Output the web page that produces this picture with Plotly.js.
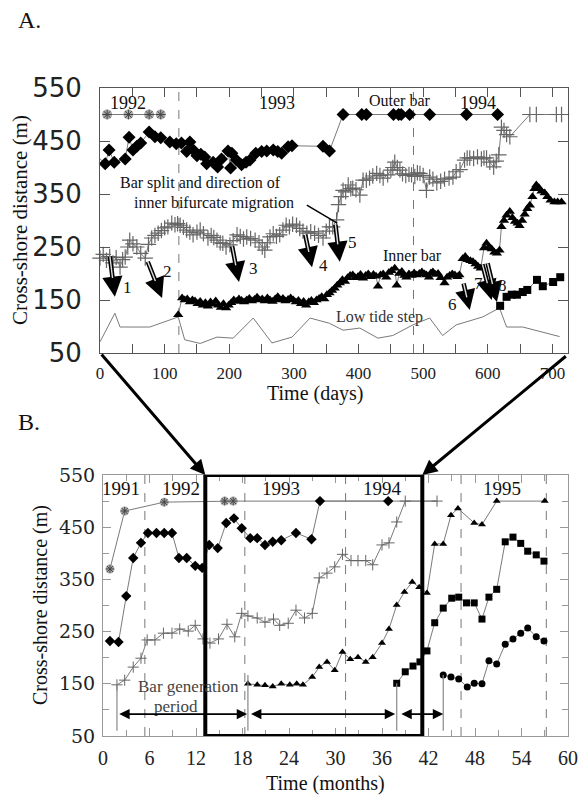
<!DOCTYPE html>
<html><head><meta charset="utf-8">
<script src="https://cdn.plot.ly/plotly-3.0.1.min.js"></script>
<style>html,body{margin:0;padding:0;background:#fff}</style>
</head><body><div id="chart" style="width:580px;height:795px"></div>
<script>
// ---------- Panel A (days) ----------
const aAstDays = [11, 44, 76, 94];
const aAstVals = [500, 500, 500, 500];

const aDiaDays = [-3,8,14,22,39,45,51,57,63,76,85,94,108,118,126,134,139,145,150,156,162,165,175,182,188,198,202,204,211,219,226,232,241,250,258,268,275,281,291,297,345,355,376,405,412,454,462,466,479,510,567,615];
const aDiaVals = [420,407,433,410,416,457,433,440,446,467,458,456,448,445,446,430,448,432,422,425,420,407,410,401,416,431,399,427,414,405,410,414,427,430,431,433,430,427,439,441,440,431,500,500,500,500,500,500,500,500,500,500];

const aPlusDays = [0,5,10,15,20,25,31,35,39,43,46,51,57,63,70,75,80,85,90,95,100,105,111,116,120,124,129,134,139,144,150,155,160,167,172,176,181,186,190,195,201,206,212,217,222,227,233,240,246,251,255,259,263,268,273,278,283,288,293,298,304,309,314,320,326,332,338,345,350,355,360,366,369,373,376,380,384,388,391,396,402,407,412,417,422,428,433,438,445,450,453,456,460,464,468,473,478,482,487,491,495,500,505,510,515,521,527,533,540,546,551,557,564,568,572,578,584,590,594,598,603,609,613,617,621,625,629,634,665,675,706,714];
const aPlusVals = [229,236,225,232,220,230,212,226,231,250,263,256,250,238,229,255,267,272,276,281,286,288,295,292,294,291,287,282,278,273,278,282,275,267,272,268,263,258,257,250,254,262,273,270,265,269,266,263,258,250,244,258,269,275,270,273,282,291,288,293,291,285,280,276,279,276,272,267,280,288,288,301,330,345,357,354,367,360,361,358,348,376,376,380,384,389,385,380,386,395,400,410,400,395,388,385,387,386,383,390,389,385,357,382,378,371,374,378,380,382,392,396,414,418,418,417,420,416,418,418,410,401,412,424,476,470,462,458,500,500,500,500];

const aTriDays = [121,127,131,135,139,143,147,151,155,159,163,167,171,175,179,183,187,191,195,199,203,207,211,215,219,223,227,231,235,239,243,247,251,255,259,263,267,271,275,279,283,287,291,295,299,303,307,311,315,319,323,327,331,335,339,343,347,351,355,359,363,367,371,375,379,383,387,391,395,399,403,407,411,415,419,423,427,430,434,438,443,447,451,456,459,463,467,471,474,478,482,486,490,494,498,502,505,509,512,515,519,523,527,533,537,541,545,549,553,556,561,565,569,573,577,581,585,589,594,598,602,606,610,614,618,621,625,629,634,638,642,646,649,653,657,661,665,669,672,675,679,683,688,692,697,703,708,714];
const aTriVals = [122,154,150,152,146,150,148,143,147,140,145,138,146,142,148,140,136,143,135,140,145,150,147,152,149,146,150,153,148,151,155,150,152,148,154,150,147,152,156,150,153,148,151,154,150,146,149,143,147,140,146,149,145,150,153,156,152,160,163,168,172,178,182,188,185,192,196,197,192,194,198,191,196,199,194,198,195,176,197,199,193,202,205,210,178,200,204,196,193,199,196,201,197,200,203,199,197,193,201,203,198,200,192,182,193,196,199,197,194,197,228,232,226,224,222,218,213,210,248,257,250,246,240,238,244,288,300,310,317,305,298,295,290,300,312,322,329,345,360,367,362,355,352,345,338,335,335,335];

const aSqDays = [619,629,637,645,654,661,676,685,701,712];
const aSqVals = [139,156,160,160,165,169,188,176,184,193];

const aLowDays = [0,23,31,77,121,131,155,181,206,237,266,297,325,355,376,402,430,453,484,510,530,551,592,618,629,654,711];
const aLowVals = [71,125,99,99,118,75,68,80,78,116,69,80,116,106,93,97,78,83,103,116,83,103,118,135,99,99,81];

const aDashDays = [122, 485];
const aYears = ['1992', '1993', '1994'];
const aYearDays = [43, 274, 585];
// split arrows: tail (day, value) -> tip (day, value), labels
const arrTailDays = [15, 73, 204, 317, 364, 562, 591, 599];
const arrTailVals = [235, 225, 254, 276, 295, 184, 220, 222];
const arrTipDays  = [23, 96, 215, 328, 371, 572, 606, 614];
const arrTipVals  = [156, 154, 184, 212, 222, 131, 150, 146];
const arrLabels   = ['1','2','3','4','5','6','7','8'];
const arrLabDays  = [42, 105, 237, 345, 390, 546, 585, 622];
const arrLabVals  = [173, 203, 210, 216, 258, 141, 182, 178];

// ---------- Panel B (months) ----------
const bOuterM = [0.9, 2.8, 7.9, 15.7, 16.8, 28, 36.8, 39, 43.1];
const bOuterV = [370, 481, 498, 500, 500, 500, 500, 500, 500];
const bAstM = [0.9, 2.8, 7.9, 15.7, 16.8];
const bAstV = [370, 481, 498, 500, 500];

const bDiaM = [0.9,2.0,3.0,3.9,4.9,5.8,6.9,7.9,8.9,9.8,10.8,11.9,12.8,13.7,14.8,15.9,16.9,17.9,19.0,19.9,20.9,21.9,23.0,24.9,26.9,28.0,36.8];
const bDiaV = [232,230,318,391,420,439,439,439,439,391,391,376,372,416,410,458,467,448,429,429,416,422,425,439,427,500,500];

const bPlusM = [1.8,2.8,3.9,4.9,5.7,6.7,7.8,8.9,9.9,11.0,11.9,12.9,13.8,14.9,16.0,17.0,17.9,18.7,19.9,20.9,22.0,22.8,23.9,24.9,26.0,27.0,27.9,28.9,29.9,30.9,32.0,32.9,33.9,34.8,36.0,36.9,37.9,39.0,43.1];
const bPlusV = [148,157,182,199,234,234,247,247,255,251,262,236,228,236,264,240,285,280,276,268,274,262,266,291,276,285,353,362,374,398,386,386,386,378,416,420,460,500,500];

const bTriM = [18.7,19.9,20.9,21.9,23.0,24.1,25.0,25.8,27.0,27.9,28.9,29.9,30.9,31.9,32.9,33.9,34.8,36.0,36.9,37.9,38.9,39.9,40.8,41.8,42.8,43.9,44.9,45.8,47.9,48.9,50.8,57.0];
const bTriV = [150,148,147,145,150,148,150,148,163,182,192,176,211,197,201,192,201,228,255,301,326,345,335,324,418,418,473,486,458,455,500,500];

const bSqM = [37.9,39.0,40.0,40.9,41.8,42.8,43.9,45.0,45.9,46.9,47.9,48.9,49.8,50.8,51.9,52.9,53.9,54.8,55.9,56.9];
const bSqV = [151,173,184,192,213,267,295,314,316,305,305,274,316,331,422,431,419,404,397,385];

const bCirM = [43.9,44.9,45.9,47.0,47.9,48.9,49.8,50.8,51.9,52.9,53.9,54.8,55.9,56.9];
const bCirV = [167,163,159,144,151,150,194,188,226,236,247,257,240,232];

const bDashM = [5.4, 18.3, 31.3, 46.2, 57.2];
const bYears = ['1991','1992','1993','1994','1995'];
const bYearM = [2.3, 10.1, 23.0, 36.1, 51.5];
// bar generation starts (month, value of first point)
const genStartM = [1.8, 18.7, 37.9, 43.9];
const genStartV = [148, 167, 151, 167];
const genBaseV = 60;
// generation period arrows
const periodFrom = [1.9, 18.9, 38.3];
const periodTo   = [18.6, 37.7, 43.9];
const periodV = 92;
// zoom rectangle (months)
const zoomFrom = 13.2, zoomTo = 41.2;

// ---------- build ----------
const W = 580, H = 795;
const px = x => x / W, py = y => 1 - y / H;
const SERIF = 'Liberation Serif, Times New Roman, serif';
const LG = '#7a7a7a';

function sc(x, y, xa, ya, extra) {
  return Object.assign({x: x, y: y, xaxis: xa, yaxis: ya, type: 'scatter', hoverinfo: 'skip', cliponaxis: false}, extra);
}

const traces = [
  sc(aLowDays, aLowVals, 'x', 'y', {mode: 'lines', line: {color: LG, width: 1}}),
  sc(aAstDays, aAstVals, 'x', 'y', {mode: 'lines+markers', line: {color: LG, width: 1}, marker: {symbol: 'circle', size: 10, color: '#aaa'}}),
  sc(aAstDays, aAstVals, 'x', 'y', {mode: 'markers', marker: {symbol: 'asterisk-open', size: 8, color: '#444', line: {color: '#444', width: 1}}}),
  sc(aDiaDays, aDiaVals, 'x', 'y', {mode: 'lines+markers', line: {color: LG, width: 1}, marker: {symbol: 'diamond', size: 10, color: 'black'}}),
  sc(aPlusDays, aPlusVals, 'x', 'y', {mode: 'lines+markers', line: {color: LG, width: 1}, marker: {symbol: 'cross-thin-open', size: 11, color: '#666', line: {color: '#666', width: 1.2}}}),
  sc(aTriDays, aTriVals, 'x', 'y', {mode: 'lines+markers', line: {color: LG, width: 1}, marker: {symbol: 'triangle-up', size: 9, color: 'black'}}),
  sc(aSqDays, aSqVals, 'x', 'y', {mode: 'lines+markers', line: {color: LG, width: 1}, marker: {symbol: 'square', size: 8, color: 'black'}}),

  sc(bOuterM, bOuterV, 'x2', 'y2', {mode: 'lines', line: {color: LG, width: 1}}),
  sc(bAstM, bAstV, 'x2', 'y2', {mode: 'markers', marker: {symbol: 'circle', size: 9, color: '#aaa'}}),
  sc(bAstM, bAstV, 'x2', 'y2', {mode: 'markers', marker: {symbol: 'asterisk-open', size: 7, color: '#444', line: {color: '#444', width: 1}}}),
  sc(bDiaM, bDiaV, 'x2', 'y2', {mode: 'lines+markers', line: {color: LG, width: 1}, marker: {symbol: 'diamond', size: 8, color: 'black'}}),
  sc(bPlusM, bPlusV, 'x2', 'y2', {mode: 'lines+markers', line: {color: LG, width: 1}, marker: {symbol: 'cross-thin-open', size: 8, color: '#666', line: {color: '#666', width: 1}}}),
  sc(bTriM, bTriV, 'x2', 'y2', {mode: 'lines+markers', line: {color: LG, width: 1}, marker: {symbol: 'triangle-up', size: 7, color: 'black'}}),
  sc(bSqM, bSqV, 'x2', 'y2', {mode: 'lines+markers', line: {color: LG, width: 1}, marker: {symbol: 'square', size: 7, color: 'black'}}),
  sc(bCirM, bCirV, 'x2', 'y2', {mode: 'lines+markers', line: {color: LG, width: 1}, marker: {symbol: 'circle', size: 7, color: 'black'}})
];

const shapes = [];
aDashDays.forEach(d => shapes.push({type: 'line', xref: 'x', yref: 'y', x0: d, x1: d, y0: 50, y1: 550, layer: 'below', line: {color: '#777', width: 1, dash: 'dash'}}));
bDashM.forEach(d => shapes.push({type: 'line', xref: 'x2', yref: 'y2', x0: d, x1: d, y0: 50, y1: 550, layer: 'below', line: {color: '#777', width: 1, dash: 'dash'}}));
genStartM.forEach((m, i) => shapes.push({type: 'line', xref: 'x2', yref: 'y2', x0: m, x1: m, y0: genStartV[i], y1: genBaseV, line: {color: '#888', width: 1.2}}));
// callout line for bar split text
shapes.push({type: 'line', xref: 'x', yref: 'y', x0: 320, x1: 367, y0: 329, y1: 295, line: {color: 'black', width: 1.5}});
// zoom rectangle
shapes.push({type: 'rect', xref: 'x2', yref: 'y2', x0: zoomFrom, x1: zoomTo, y0: 50, y1: 550, line: {color: 'black', width: 4}});

const ann = [];
function txt(x, y, text, size, xref, yref, extra) {
  return Object.assign({x: x, y: y, xref: xref, yref: yref, text: text, showarrow: false, xanchor: 'center', yanchor: 'middle', font: {family: SERIF, size: size, color: '#111'}}, extra || {});
}
aYears.forEach((t, i) => ann.push(txt(aYearDays[i], 521, t, 18, 'x', 'y')));
bYears.forEach((t, i) => ann.push(txt(bYearM[i], 525, t, 19, 'x2', 'y2')));
ann.push(txt(464, 527, 'Outer bar', 16, 'x', 'y'));
ann.push(txt(483, 234, 'Inner bar', 16, 'x', 'y'));
ann.push(txt(432, 118, 'Low tide step', 16, 'x', 'y', {font: {family: SERIF, size: 16, color: '#333'}}));
ann.push(txt(156, 371, 'Bar split and direction of', 16, 'x', 'y'));
ann.push(txt(176, 333, 'inner bifurcate migration', 16, 'x', 'y'));
ann.push(txt(11.0, 144, 'Bar generation', 17, 'x2', 'y2', {font: {family: SERIF, size: 17, color: '#444'}}));
ann.push(txt(9.4, 106, 'period', 17, 'x2', 'y2', {font: {family: SERIF, size: 17, color: '#444'}}));

// split arrows
arrTipDays.forEach((d, i) => {
  ann.push({x: d, y: arrTipVals[i], ax: arrTailDays[i], ay: arrTailVals[i], xref: 'x', yref: 'y', axref: 'x', ayref: 'y',
    text: '', showarrow: true, arrowhead: 2, arrowsize: 0.9, arrowwidth: 4.5, arrowcolor: 'black'});
  const f = 0.55;
  ann.push({x: arrTailDays[i] + f * (d - arrTailDays[i]), y: arrTailVals[i] + f * (arrTipVals[i] - arrTailVals[i]),
    ax: arrTailDays[i], ay: arrTailVals[i], xref: 'x', yref: 'y', axref: 'x', ayref: 'y',
    text: '', showarrow: true, arrowhead: 0, arrowwidth: 1.4, arrowcolor: '#ddd'});
  ann.push(txt(arrLabDays[i], arrLabVals[i], arrLabels[i], 17, 'x', 'y'));
});

// period arrows
periodFrom.forEach((m, i) => ann.push({x: periodTo[i], y: periodV, ax: m, ay: periodV, xref: 'x2', yref: 'y2', axref: 'x2', ayref: 'y2',
  text: '', showarrow: true, arrowside: 'end+start', arrowhead: 2, startarrowhead: 2, arrowsize: 1.3, startarrowsize: 1.3, arrowwidth: 1.6, arrowcolor: 'black'}));

// connectors from panel A corners to zoom rectangle
ann.push({x: zoomFrom, y: 550, xref: 'x2', yref: 'y2', ax: -105, ay: -122, text: '', showarrow: true, arrowhead: 2, arrowsize: 1, arrowwidth: 3, arrowcolor: 'black'});
ann.push({x: zoomTo, y: 550, xref: 'x2', yref: 'y2', ax: 145, ay: -120, text: '', showarrow: true, arrowhead: 2, arrowsize: 1, arrowwidth: 3, arrowcolor: 'black'});

// panel letters and axis titles
ann.push(txt(px(29), py(20), 'A.', 24, 'paper', 'paper'));
ann.push(txt(px(29), py(422), 'B.', 24, 'paper', 'paper'));
ann.push(txt(px(20), py(220), 'Cross-shore distance (m)', 21, 'paper', 'paper', {textangle: -90}));
ann.push(txt(px(315), py(393), 'Time (days)', 20, 'paper', 'paper'));
ann.push(txt(px(40), py(605), 'Cross-shore distance (m)', 20, 'paper', 'paper', {textangle: -90}));
ann.push(txt(px(325), py(783), 'Time (months)', 20, 'paper', 'paper'));

const axA = '#555', axB = '#999';
const layout = {
  width: W, height: H, margin: {l: 0, r: 0, t: 0, b: 0}, showlegend: false,
  paper_bgcolor: 'white', plot_bgcolor: 'white',
  xaxis: {domain: [px(100), px(568)], range: [0, 724], tick0: 0, dtick: 100, ticks: 'inside', ticklen: 9, tickcolor: axA,
    showline: true, linecolor: axA, linewidth: 1, mirror: 'allticks', showgrid: false, zeroline: false, anchor: 'y',
    tickfont: {family: SERIF, size: 17, color: '#222'}, ticklabelstandoff: 5,
    minor: {dtick: 50, tick0: 0, ticks: 'inside', ticklen: 9, tickcolor: axA, showgrid: false}},
  yaxis: {domain: [py(353), py(88)], range: [50, 550], tick0: 50, dtick: 100, ticks: 'inside', ticklen: 10, tickcolor: axA,
    showline: true, linecolor: axA, linewidth: 1, mirror: 'allticks', showgrid: false, zeroline: false, anchor: 'x',
    tickfont: {family: 'DejaVu Sans, sans-serif', size: 26, color: '#222'}, ticklabelstandoff: 12},
  xaxis2: {domain: [px(103), px(568)], range: [0, 60], tick0: 0, dtick: 6, ticks: 'inside', ticklen: 8, tickcolor: axB,
    showline: true, linecolor: axB, linewidth: 1, mirror: 'allticks', showgrid: false, zeroline: false, anchor: 'y2',
    tickfont: {family: SERIF, size: 20, color: '#222'}, ticklabelstandoff: 4,
    minor: {dtick: 3, tick0: 0, ticks: 'inside', ticklen: 6, tickcolor: axB, showgrid: false}},
  yaxis2: {domain: [py(736), py(475)], range: [50, 550], tick0: 50, dtick: 100, ticks: 'inside', ticklen: 8, tickcolor: axB,
    showline: true, linecolor: axB, linewidth: 1, mirror: 'allticks', showgrid: false, zeroline: false, anchor: 'x2',
    tickfont: {family: 'DejaVu Serif, serif', size: 19, color: '#222'}, ticklabelstandoff: 3,
    minor: {dtick: 50, tick0: 50, ticks: 'inside', ticklen: 6, tickcolor: axB, showgrid: false}},
  shapes: shapes,
  annotations: ann
};

Plotly.newPlot('chart', traces, layout, {displayModeBar: false, staticPlot: true});
</script></body></html>
